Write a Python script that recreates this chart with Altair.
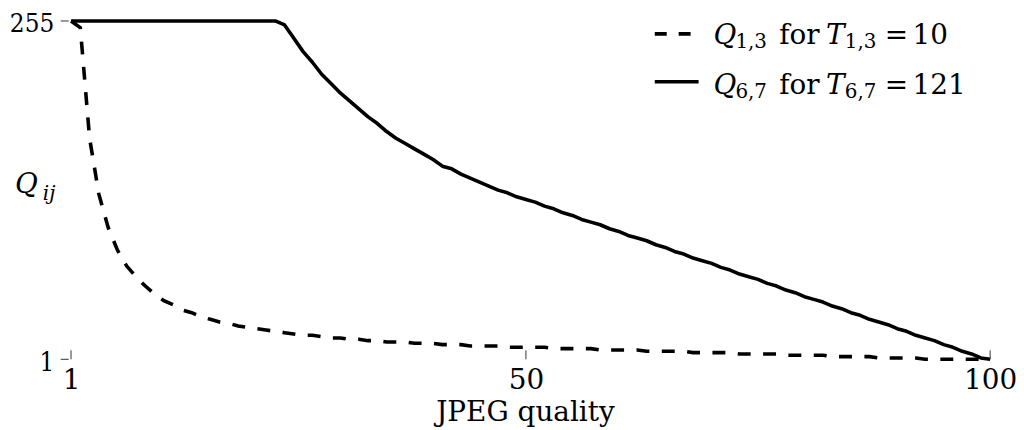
import altair as alt
import pandas as pd

# JPEG quality setting (x)
quality = list(range(1, 101))
# Q_{1,3} for T_{1,3} = 10 (dashed)
q13 = [255, 250, 167, 125, 100, 83, 71, 63, 56, 50,
       45, 42, 38, 36, 33, 31, 29, 28, 26, 25,
       24, 23, 22, 21, 20, 19, 19, 18, 17, 17,
       16, 16, 15, 15, 14, 14, 14, 13, 13, 13,
       12, 12, 12, 11, 11, 11, 11, 10, 10, 10,
       10, 10, 9, 9, 9, 9, 9, 8, 8, 8,
       8, 8, 7, 7, 7, 7, 7, 6, 6, 6,
       6, 6, 5, 5, 5, 5, 5, 4, 4, 4,
       4, 4, 3, 3, 3, 3, 3, 2, 2, 2,
       2, 2, 1, 1, 1, 1, 1, 1, 1, 1]
# Q_{6,7} for T_{6,7} = 121 (solid)
q67 = [255, 255, 255, 255, 255, 255, 255, 255, 255, 255,
       255, 255, 255, 255, 255, 255, 255, 255, 255, 255,
       255, 255, 255, 252, 242, 232, 224, 215, 208, 201,
       195, 189, 183, 178, 172, 167, 163, 159, 155, 151,
       146, 144, 140, 137, 134, 131, 128, 126, 123, 121,
       119, 116, 114, 111, 109, 106, 104, 102, 99, 97,
       94, 92, 90, 87, 85, 82, 80, 77, 75, 73,
       70, 68, 65, 63, 61, 58, 56, 53, 51, 48,
       46, 44, 41, 39, 36, 34, 31, 29, 27, 24,
       22, 19, 17, 15, 12, 10, 7, 5, 2, 1]
x_tick_values = [1, 50, 100]
y_tick_values = [1, 255]

W, H = 933, 340
FONT = "DejaVu Serif"
YFONT = "DejaVu Serif Condensed"
LW = 3.6

df = pd.DataFrame({"quality": quality, "Q13": q13, "Q67": q67})
xs = alt.Scale(domain=[0, 100], nice=False, zero=False)
ys = alt.Scale(domain=[1, 255], nice=False, zero=False)

xaxis = alt.Axis(values=x_tick_values, title=None, domain=False, ticks=False, grid=False,
                 labelFont=FONT, labelFontSize=28, labelColor="black", labelPadding=7,
                 labelBaseline="top", labelFlush=False, labelOverlap=False)
yaxis = alt.Axis(values=y_tick_values, title=None, domain=False, ticks=False, grid=False,
                 labelFont=YFONT, labelFontSize=26, labelColor="black", labelPadding=8,
                 labelBaseline="middle", labelOffset=3, labelFlush=False, labelOverlap=False)

base = alt.Chart(df)
dashed = base.mark_line(color="black", strokeWidth=LW, strokeDash=[13, 12.5]).encode(
    x=alt.X("quality:Q", scale=xs, axis=xaxis),
    y=alt.Y("Q13:Q", scale=ys, axis=yaxis),
)
solid = base.mark_line(color="black", strokeWidth=LW, strokeJoin="round").encode(
    x=alt.X("quality:Q", scale=xs, axis=xaxis),
    y=alt.Y("Q67:Q", scale=ys, axis=yaxis),
)

xticks = alt.Chart(pd.DataFrame({"t": x_tick_values})).mark_rule(color="#333", strokeWidth=1).encode(
    x=alt.X("t:Q", scale=xs, axis=xaxis), y=alt.value(H), y2=alt.value(H - 9))
yticks = alt.Chart(pd.DataFrame({"v": y_tick_values})).mark_rule(color="#333", strokeWidth=1).encode(
    y=alt.Y("v:Q", scale=ys, axis=yaxis), x=alt.value(-1), x2=alt.value(7))


def txt(s, x, y, size=28, style="normal", align="left"):
    return alt.Chart(alt.Data(values=[{}])).mark_text(
        text=s, font=FONT, fontSize=size, fontStyle=style, align=align,
        baseline="alphabetic", color="black").encode(x=alt.value(x), y=alt.value(y))


def sym(x1, x2, y, dash=None):
    kw = dict(color="black", strokeWidth=LW)
    if dash:
        kw["strokeDash"] = dash
    return alt.Chart(alt.Data(values=[{}])).mark_rule(**kw).encode(
        x=alt.value(x1), x2=alt.value(x2), y=alt.value(y))


legend_rows = [
    ("1,3", "10", 23, 13, [12, 12]),
    ("6,7", "121", 73, 61, None),
]
legend_layers = []
for sub, val, yb, ysym, dash in legend_rows:
    legend_layers += [
        sym(596, 640, ysym, dash),
        txt("Q", 655, yb, style="italic"),
        txt(sub, 677, yb + 4, size=20),
        txt("for", 721, yb),
        txt("T", 768, yb, style="italic"),
        txt(sub, 787, yb + 4, size=20),
        txt("=", 827, yb),
        txt(val, 855, yb),
    ]

titles = [
    txt("JPEG quality", 466, 402, size=28, align="center"),
    txt("Q", -47, 173, style="italic"),
    txt("ij", -19, 180, size=20, style="italic"),
]

chart = alt.layer(dashed, solid, xticks, yticks, *legend_layers, *titles).properties(
    width=W, height=H,
    autosize=alt.AutoSizeParams(type="none"),
    padding={"left": 54, "top": 12, "right": 26, "bottom": 68},
).configure_view(stroke="transparent")

chart.save("out.html", embed_options={"renderer": "svg", "actions": False})
